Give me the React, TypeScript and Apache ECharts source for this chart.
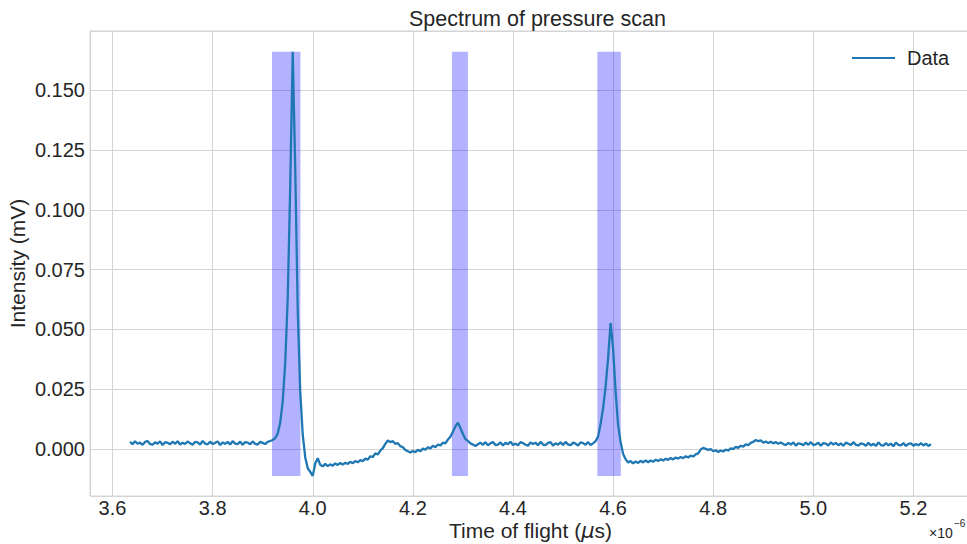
import React, { useEffect, useRef } from "react";
import * as echarts from "echarts";

// Sampling grid of the recorded trace (µs)
const TIME_START_US = 3.635;
const TIME_STEP_US = 0.005;

// Measured intensity (mV), one value per sample
const baselineA = [
  0.0031, 0.0020, 0.0033, 0.0022, 0.0027, 0.0018, 0.0030, 0.0034, 0.0021, 0.0019,
  0.0028, 0.0023, 0.0032, 0.0017, 0.0029, 0.0026, 0.0020, 0.0031, 0.0022, 0.0033,
  0.0019, 0.0027, 0.0021, 0.0032, 0.0024, 0.0018, 0.0030, 0.0028, 0.0019, 0.0034,
  0.0023, 0.0020, 0.0031, 0.0021, 0.0026, 0.0032, 0.0017, 0.0028, 0.0022, 0.0030,
  0.0019, 0.0033, 0.0023, 0.0021, 0.0031, 0.0018, 0.0029, 0.0027, 0.0020, 0.0032,
  0.0022, 0.0019, 0.0030, 0.0026, 0.0021,
];
const peakA = [
  0.0030, 0.0034, 0.0038, 0.0046, 0.0065, 0.0110, 0.0200, 0.0360, 0.0630, 0.1100,
  0.1660, 0.1170, 0.0580, 0.0240, 0.0060, -0.0035, -0.0080, -0.0095, -0.0112, -0.0060,
  -0.0038, -0.0066, -0.0072,
];
const dipB = [
  -0.0062, -0.0071, -0.0064, -0.0069, -0.0060, -0.0066, -0.0058, -0.0065, -0.0057, -0.0062,
  -0.0053, -0.0059, -0.0050, -0.0055,
];
const peakB = [
  -0.0046, -0.0050, -0.0040, -0.0044, -0.0030, -0.0033, -0.0018, -0.0022, -0.0006, 0.0004,
  0.0022, 0.0036, 0.0029, 0.0033, 0.0022, 0.0025, 0.0012, 0.0008, -0.0004, -0.0009,
  -0.0014, -0.0008, -0.0013, -0.0003, -0.0009, 0.0002, -0.0003, 0.0008, 0.0003, 0.0014,
  0.0008, 0.0019, 0.0015, 0.0027, 0.0024, 0.0040, 0.0052, 0.0072, 0.0095, 0.0110,
  0.0088, 0.0063, 0.0042, 0.0034, 0.0024, 0.0019, 0.0013, 0.0020,
];
const baselineC = [
  0.0027, 0.0018, 0.0029, 0.0016, 0.0024, 0.0030, 0.0017, 0.0019, 0.0028, 0.0015,
  0.0026, 0.0020, 0.0031, 0.0017, 0.0023, 0.0016, 0.0029, 0.0025, 0.0018, 0.0014,
  0.0028, 0.0021, 0.0027, 0.0016, 0.0030, 0.0019, 0.0017, 0.0026, 0.0029, 0.0015,
  0.0024, 0.0018, 0.0028, 0.0017, 0.0030, 0.0020, 0.0016, 0.0027, 0.0023, 0.0015,
  0.0028, 0.0025, 0.0018, 0.0029, 0.0017, 0.0024,
];
const peakC = [
  0.0033, 0.0052, 0.0105, 0.0170, 0.0260, 0.0380, 0.0527, 0.0420, 0.0240, 0.0100,
  0.0030, -0.0020, -0.0042, -0.0056,
];
const dipD = [
  -0.0050, -0.0060, -0.0052, -0.0058, -0.0049, -0.0056, -0.0047, -0.0055, -0.0048, -0.0053,
  -0.0044, -0.0050, -0.0042, -0.0048, -0.0040, -0.0045, -0.0037, -0.0043, -0.0035, -0.0040,
  -0.0033, -0.0038, -0.0030, -0.0035, -0.0027, -0.0031, -0.0022, -0.0018,
];
const bumpD = [
  -0.0002, 0.0005, 0.0001, -0.0003, 0.0000, -0.0009, -0.0005, -0.0012, -0.0006, -0.0010,
  -0.0002, -0.0006, 0.0003, 0.0000, 0.0009, 0.0005, 0.0014, 0.0010, 0.0020, 0.0017,
  0.0026, 0.0030, 0.0038, 0.0033, 0.0036, 0.0027, 0.0032, 0.0025, 0.0031, 0.0024,
  0.0029, 0.0022, 0.0028, 0.0021,
];
const tailE = [
  0.0017, 0.0026, 0.0019, 0.0028, 0.0015, 0.0024, 0.0022, 0.0016, 0.0027, 0.0018,
  0.0029, 0.0017, 0.0020, 0.0026, 0.0014, 0.0025, 0.0023, 0.0015, 0.0028, 0.0019,
  0.0026, 0.0016, 0.0024, 0.0014, 0.0027, 0.0022, 0.0017, 0.0029, 0.0018, 0.0015,
  0.0024, 0.0021, 0.0014, 0.0026, 0.0015, 0.0022, 0.0013, 0.0028, 0.0017, 0.0014,
  0.0025, 0.0016, 0.0023, 0.0012, 0.0027, 0.0018, 0.0015, 0.0025, 0.0013, 0.0022,
  0.0024, 0.0014, 0.0021, 0.0016, 0.0025, 0.0015, 0.0023, 0.0013, 0.0021,
];

// Highlighted time windows (µs)
const spanStart = [3.9186, 4.278, 4.5686];
const spanEnd = [3.9754, 4.31, 4.6154];

const TITLE = "Spectrum of pressure scan";
const X_LABEL = "Time of flight ({mu|\u03bc}s)";
const Y_LABEL = "Intensity (mV)";
const LEGEND = "Data";

const FONT = "'Liberation Sans', Arial, Helvetica, sans-serif";
const TEXT = "#262626";
const GRID = "#d4d4d4";

export default function App() {
  const ref = useRef<HTMLDivElement>(null);

  useEffect(() => {
    if (!ref.current) return;
    const chart = echarts.init(ref.current, undefined, { renderer: "svg" });

    const intensity = [
      ...baselineA, ...peakA, ...dipB, ...peakB, ...baselineC,
      ...peakC, ...dipD, ...bumpD, ...tailE,
    ];
    const data = intensity.map((v, i) => [
      +(TIME_START_US + i * TIME_STEP_US).toFixed(4),
      v,
    ]);
    const lo = Math.min(...intensity);
    const hi = Math.max(...intensity);

    chart.setOption({
      animation: false,
      backgroundColor: "#ffffff",
      textStyle: { fontFamily: FONT },
      title: {
        text: TITLE,
        left: 404,
        top: 3,
        textStyle: { fontFamily: FONT, fontSize: 21.5, fontWeight: "normal", color: TEXT },
      },
      legend: {
        data: [LEGEND],
        left: 847,
        top: 43,
        icon: "rect",
        itemWidth: 43,
        itemHeight: 2,
        textStyle: {
          fontFamily: FONT,
          fontSize: 20,
          color: TEXT,
          padding: [0, 0, 0, 7],
        },
      },
      grid: {
        left: 90,
        right: -4,
        top: 31,
        bottom: 48,
        outerBoundsMode: "none",
        containLabel: false,
        show: true,
        borderColor: GRID,
        borderWidth: 1,
        backgroundColor: "transparent",
      },
      xAxis: {
        type: "value",
        min: 3.555,
        max: 5.315,
        splitNumber: 8,
        minInterval: 0.2,
        maxInterval: 0.2,
        name: X_LABEL,
        nameLocation: "middle",
        nameGap: 24,
        nameMoveOverlap: false,
        nameTextStyle: {
          fontFamily: FONT,
          fontSize: 21,
          color: TEXT,
          rich: {
            mu: { fontFamily: "'DejaVu Sans', sans-serif", fontStyle: "italic", fontSize: 21, color: TEXT },
          },
        },
        axisLine: { show: false },
        axisTick: { show: false },
        axisLabel: {
          fontFamily: FONT,
          fontSize: 20,
          color: TEXT,
          margin: 2,
          showMinLabel: false,
          showMaxLabel: false,
          formatter: (v: number) => v.toFixed(1),
        },
        splitLine: { show: true, lineStyle: { color: GRID, width: 1 } },
      },
      yAxis: {
        type: "value",
        min: -0.0196,
        max: 0.1747,
        splitNumber: 8,
        minInterval: 0.025,
        maxInterval: 0.025,
        name: Y_LABEL,
        nameLocation: "middle",
        nameGap: 62,
        nameMoveOverlap: false,
        nameTextStyle: { fontFamily: FONT, fontSize: 21, color: TEXT },
        axisLine: { show: false },
        axisTick: { show: false },
        axisLabel: {
          fontFamily: FONT,
          fontSize: 20,
          color: TEXT,
          margin: 5,
          showMinLabel: false,
          showMaxLabel: false,
          formatter: (v: number) => v.toFixed(3),
        },
        splitLine: { show: true, lineStyle: { color: GRID, width: 1 } },
      },
      series: [
        {
          name: "spans",
          type: "line",
          data: [],
          silent: true,
          z: 1,
          markArea: {
            silent: true,
            label: { show: false },
            itemStyle: { color: "rgba(0,0,255,0.3)" },
            data: spanStart.map((s, i) => [
              { xAxis: s, yAxis: lo },
              { xAxis: spanEnd[i], yAxis: hi },
            ]),
          },
        },
        {
          name: LEGEND,
          type: "line",
          data,
          z: 3,
          showSymbol: false,
          symbol: "none",
          color: "#1f77b4",
          lineStyle: { color: "#1f77b4", width: 2.3 },
        },
      ],
      graphic: [
        {
          type: "text",
          x: 929,
          y: 526,
          style: { text: "\u00d710", font: `14px ${FONT}`, fill: TEXT },
        },
        {
          type: "text",
          x: 954,
          y: 518,
          style: { text: "\u22126", font: `10px ${FONT}`, fill: TEXT },
        },
      ],
    });

    return () => chart.dispose();
  }, []);

  return (
    <div
      ref={ref}
      style={{ position: "fixed", left: 0, top: 0, width: 967, height: 544 }}
    />
  );
}
